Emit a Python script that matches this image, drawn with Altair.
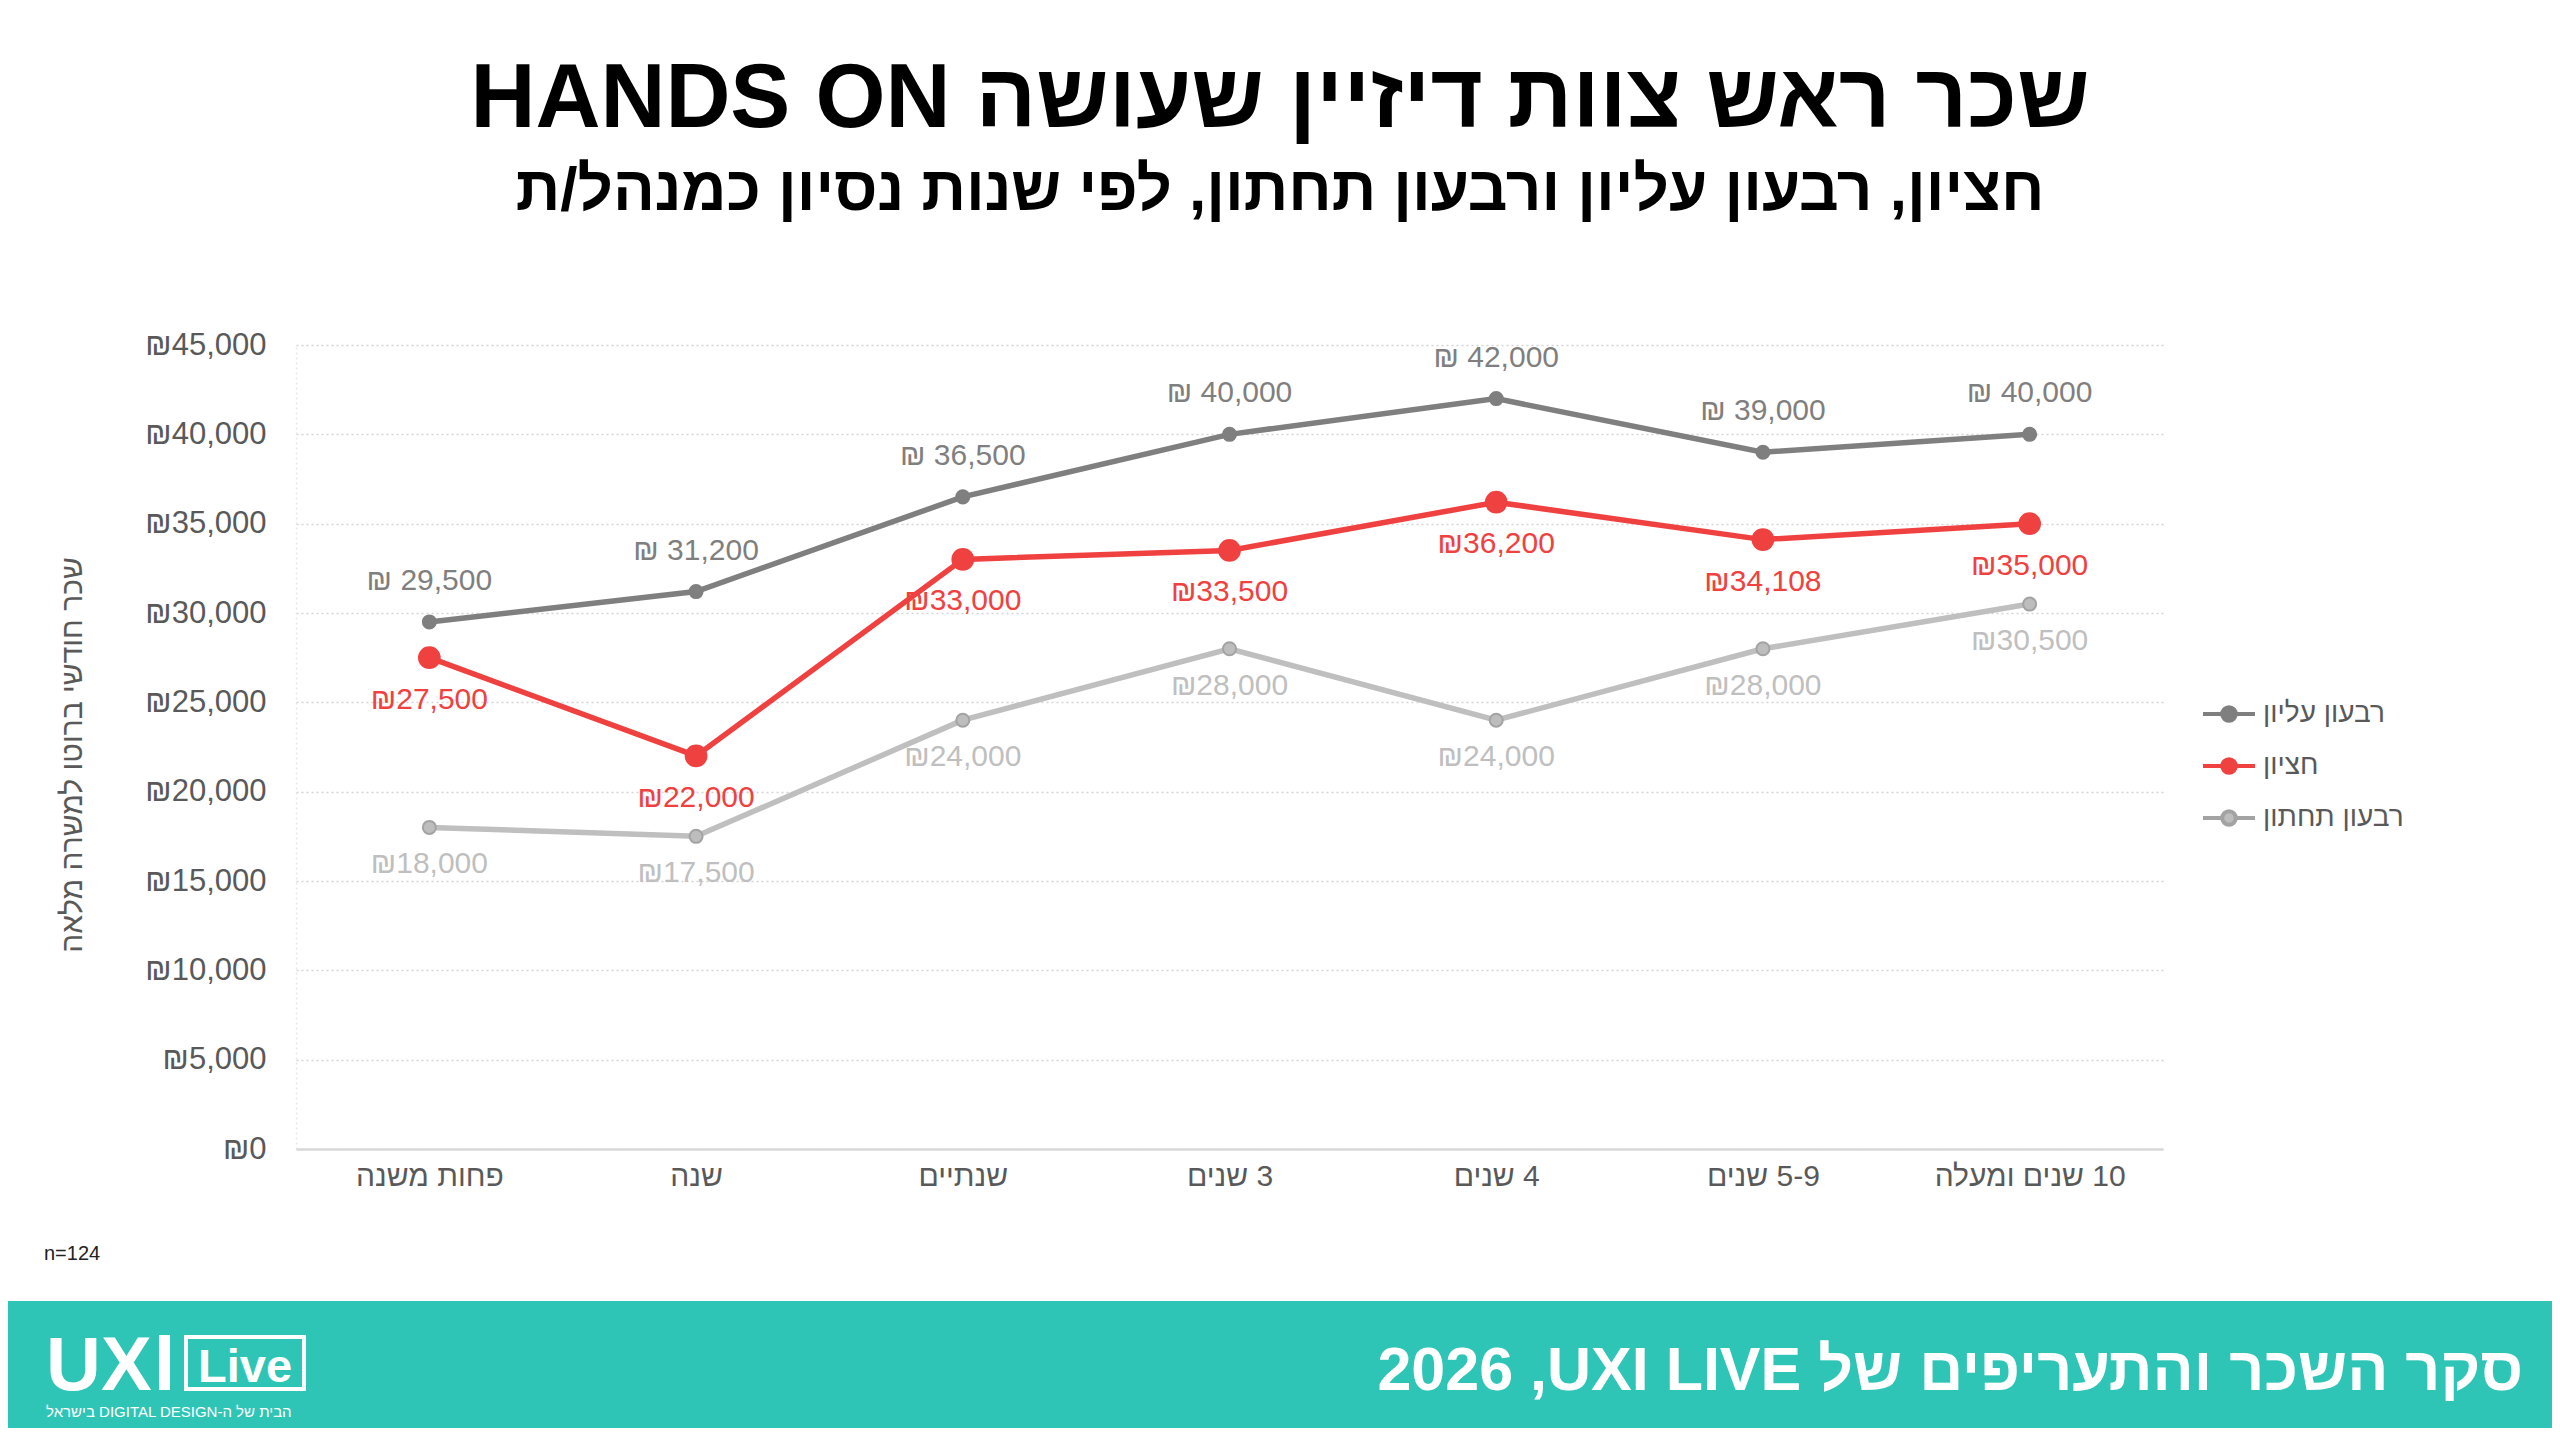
import altair as alt
import pandas as pd

RLE, PDF = "\u202b", "\u202c"
def rtl(s):
    return RLE + s + PDF

# ---------------- data ----------------
categories = ["פחות משנה", "שנה", "שנתיים", "3 שנים", "4 שנים", "5-9 שנים", "10 שנים ומעלה"]
upper = [29500, 31200, 36500, 40000, 42000, 39000, 40000]
median = [27500, 22000, 33000, 33500, 36200, 34108, 35000]
lower = [18000, 17500, 24000, 28000, 24000, 28000, 30500]
series_names = ["רבעון עליון", "חציון", "רבעון תחתון"]
y_ticks = [0, 5000, 10000, 15000, 20000, 25000, 30000, 35000, 40000, 45000]

title_text = "שכר ראש צוות דיזיין שעושה HANDS ON"
subtitle_text = "חציון, רבעון עליון ורבעון תחתון, לפי שנות נסיון כמנהל/ת"
y_title_text = "שכר חודשי ברוטו למשרה מלאה"
n_text = "n=124"
footer_text = "2026 ,UXI LIVE " + "סקר השכר והתעריפים של"
logo_tag = "הבית של ה-DIGITAL DESIGN בישראל"

# ---------------- styles ----------------
line_colors = ["#7f7f7f", "#f04141", "#bfbfbf"]
fill_colors = ["#7f7f7f", "#f04141", "#bdbdbd"]
stroke_colors = ["#7f7f7f", "#f04141", "#a3a3a3"]
label_colors = {"רבעון עליון": "#7f7f7f", "חציון": "#f04141", "רבעון תחתון": "#bfbfbf"}
FONT = "Liberation Sans"
TEAL = "#2fc5b6"

cats_disp = [rtl(c) for c in categories]
rows = []
for name, vals in zip(series_names, [upper, median, lower]):
    for c, v in zip(cats_disp, vals):
        lab = f"₪ {v:,}" if name == "רבעון עליון" else f"₪{v:,}"
        rows.append({"cat": c, "series": rtl(name), "line_series": name, "value": v, "label": lab})
df = pd.DataFrame(rows)
ser_disp = [rtl(s) for s in series_names]

W, H = 1867, 804

x_enc = alt.X("cat:N", sort=cats_disp,
              scale=alt.Scale(type="point", padding=0.5),
              axis=alt.Axis(title=None, labelAngle=0, labelFont=FONT, labelFontSize=30,
                            labelColor="#595959", labelPadding=12, ticks=False, labelLimit=500,
                            domainColor="#d9d9d9", domainWidth=2.5, grid=False))
y_enc = alt.Y("value:Q", scale=alt.Scale(domain=[0, 45000], nice=False),
              axis=alt.Axis(title=None, values=y_ticks,
                            labelExpr="'₪' + format(datum.value, ',')",
                            labelFont=FONT, labelFontSize=31, labelColor="#595959",
                            labelPadding=30, ticks=False,
                            grid=True, gridColor="#d4d4d4", gridDash=[2, 3], gridWidth=1.5,
                            domain=True, domainColor="#e6e6e6", domainDash=[2, 3], domainWidth=1.5))

base = alt.Chart(df)

# line colour uses its own field/domain so its (hidden) legend is not merged with the visible one
lines = base.mark_line(strokeWidth=5.5).encode(
    x=x_enc, y=y_enc,
    color=alt.Color("line_series:N", scale=alt.Scale(domain=series_names, range=line_colors),
                    legend=None),
)

legend_symbol = ("M-1,0L-0.26,0M0.26,0L1,0"
                 "M0.26,0C0.26,0.144,0.144,0.26,0,0.26C-0.144,0.26,-0.26,0.144,-0.26,0"
                 "C-0.26,-0.144,-0.144,-0.26,0,-0.26C0.144,-0.26,0.26,-0.144,0.26,0Z")
legend_cfg = dict(title=None, orient="none", legendX=1905, legendY=341,
                  symbolType=legend_symbol, symbolSize=2704, symbolStrokeWidth=4,
                  labelFont=FONT, labelFontSize=28, labelColor="#595959",
                  labelOffset=6, rowPadding=9)

points = base.mark_circle(opacity=1, strokeWidth=2).encode(
    x=x_enc, y=y_enc,
    fill=alt.Fill("series:N", scale=alt.Scale(domain=ser_disp, range=fill_colors),
                  legend=alt.Legend(**legend_cfg)),
    stroke=alt.Stroke("series:N", scale=alt.Scale(domain=ser_disp, range=stroke_colors),
                      legend=alt.Legend(**legend_cfg)),
    size=alt.condition(alt.datum.series == rtl("חציון"), alt.value(430), alt.value(170)),
)

def labels(name, dy):
    return base.transform_filter(alt.datum.series == rtl(name)).mark_text(
        font=FONT, fontSize=30, dy=dy, color=label_colors[name]
    ).encode(x=x_enc, y=y_enc, text="label:N")

lab_up = labels("רבעון עליון", -41)
lab_med = labels("חציון", 42)
lab_low = labels("רבעון תחתון", 37)

def note(text, x, y, size, color="#000000", weight="normal", align="center",
         baseline="alphabetic", angle=0, font=FONT):
    return alt.Chart(pd.DataFrame({"t": [text]})).mark_text(
        font=font, fontSize=size, fontWeight=weight, color=color, align=align,
        baseline=baseline, angle=angle
    ).encode(x=alt.value(x), y=alt.value(y), text="t:N")

title = note(rtl(title_text), 984, -218, 90, weight="bold")
subtitle = note(rtl(subtitle_text), 984, -135, 62, weight="bold")
ytitle = note(rtl(y_title_text), -223, 410, 30, color="#595959", baseline="middle", angle=270)
ntext = note(n_text, -252, 915, 20, color="#222222", align="left")

band = alt.Chart(pd.DataFrame({"a": [0]})).mark_rect(color=TEAL).encode(
    x=alt.value(-300), x2=alt.value(2300), y=alt.value(956), y2=alt.value(1100)
)
footer = note(footer_text, 2227, 1045, 61, color="white", weight="bold", align="right")
logo_ux = note("UX", -250, 1045, 76, color="white", weight="bold", align="left")
logo_bar = alt.Chart(pd.DataFrame({"a": [0]})).mark_rect(color="white").encode(
    x=alt.value(-137), x2=alt.value(-126), y=alt.value(990), y2=alt.value(1045)
)
logo_box = alt.Chart(pd.DataFrame({"a": [0]})).mark_rect(
    fill=TEAL, stroke="white", strokeWidth=4
).encode(x=alt.value(-110), x2=alt.value(8), y=alt.value(992), y2=alt.value(1044))
logo_live = note("Live", -51, 1037, 47, color="white", weight="bold")
logo_sub = note(rtl(logo_tag), -250, 1072, 15, color="white", align="left")

chart = alt.layer(
    band, lines, points, lab_up, lab_med, lab_low,
    title, subtitle, ytitle, ntext, footer, logo_ux, logo_bar, logo_box, logo_live, logo_sub
).properties(
    width=W, height=H,
    autosize=alt.AutoSizeParams(type="none"),
    padding={"left": 288, "top": 337, "right": 389, "bottom": 279},
    background="white",
).configure_view(stroke=None)

chart.save("out.html", embed_options={"renderer": "svg", "actions": False})
